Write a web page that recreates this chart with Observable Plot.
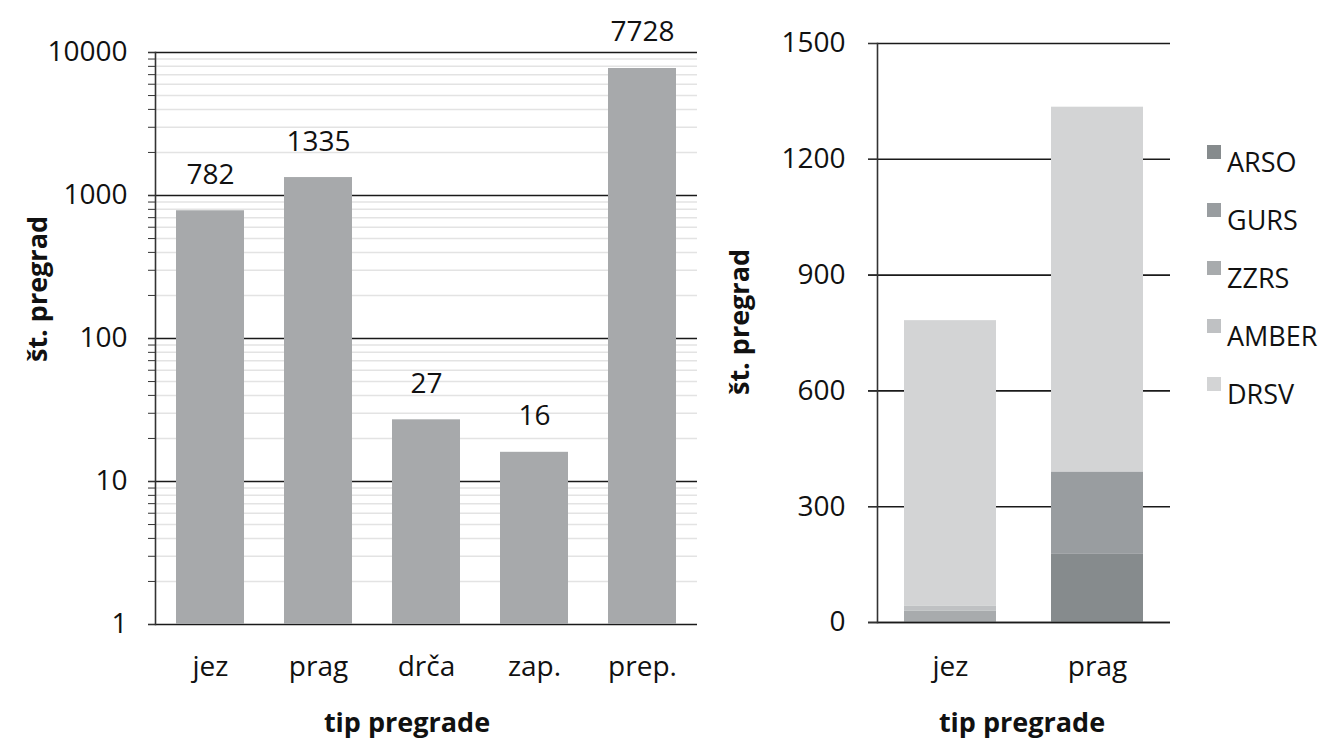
<!DOCTYPE html>
<html>
<head>
<meta charset="utf-8">
<script src="https://cdn.jsdelivr.net/npm/d3@7"></script>
<script src="https://cdn.jsdelivr.net/npm/@observablehq/plot@0.6"></script>
<style>
  body { margin: 0; background: #fff; width: 1342px; height: 738px; position: relative; overflow: hidden; font-family: "Open Sans", sans-serif; color: #111; }
  .abs { position: absolute; }
  .title { position: absolute; font-weight: bold; font-size: 27px; white-space: nowrap; transform: translate(-50%, -50%); }
  .ytitle { position: absolute; font-weight: bold; font-size: 27px; white-space: nowrap; transform: translate(-50%, -50%) rotate(-90deg); }
  .leg { position: absolute; font-size: 27px; white-space: nowrap; }
  .sw { position: absolute; width: 14px; height: 14px; }
</style>
</head>
<body>
<div id="left" class="abs" style="left:0;top:0"></div>
<div id="right" class="abs" style="left:700px;top:0"></div>
<div class="ytitle" style="left:36px;top:289px">št. pregrad</div>
<div class="title" style="left:407px;top:721px">tip pregrade</div>
<div class="ytitle" style="left:738px;top:322px">št. pregrad</div>
<div class="title" style="left:1022px;top:721px">tip pregrade</div>
<div id="legend"></div>
<script>
// ---- data: left chart (log scale) ----
const categories = ["jez", "prag", "drča", "zap.", "prep."];
const counts = [782, 1335, 27, 16, 7728];
const logMajorTicks = [1, 10, 100, 1000, 10000];
const logMinorTicks = [2,3,4,5,6,7,8,9, 20,30,40,50,60,70,80,90, 200,300,400,500,600,700,800,900, 2000,3000,4000,5000,6000,7000,8000,9000];

// ---- data: right chart (stacked) ----
const stackCategories = ["jez", "prag"];
const sources = ["ARSO", "GURS", "ZZRS", "AMBER", "DRSV"];
const arso  = [2, 178];
const gurs  = [0, 212];
const zzrs  = [28, 0];
const amber = [13, 0];
const drsv  = [739, 945];
const linearTicks = [0, 300, 600, 900, 1200, 1500];

const sourceColors = ["#868b8d", "#999da0", "#a8abad", "#bfc1c3", "#d3d4d5"];
const barColor = "#a7a9ab";

const leftData = categories.map((c, i) => ({cat: c, n: counts[i]}));
const seriesBySource = [arso, gurs, zzrs, amber, drsv];
const rightData = [];
stackCategories.forEach((c, j) => {
  sources.forEach((s, k) => rightData.push({cat: c, src: s, n: seriesBySource[k][j]}));
});

const FS = 28;
const font = {fontFamily: "'Open Sans', sans-serif", fontSize: FS + "px", color: "#111", background: "white"};

const left = Plot.plot({
  width: 700, height: 738,
  marginLeft: 155, marginRight: 3, marginTop: 52, marginBottom: 114,
  style: font,
  x: {domain: categories, paddingInner: 0.373, paddingOuter: 0.185, label: null},
  y: {type: "log", domain: [1, 10000], label: null},
  marks: [
    Plot.ruleY(logMinorTicks, {stroke: "#e3e3e3", strokeWidth: 1.5}),
    Plot.ruleY(logMajorTicks, {stroke: "#1a1a1a", strokeWidth: 1.6, insetLeft: -7}),
    Plot.barY(leftData, {x: "cat", y1: 1, y2: "n", fill: barColor}),
    Plot.text(leftData, {x: "cat", y: "n", text: d => String(d.n), dy: -36, fontSize: FS, fill: "#111"}),
    Plot.axisY([...logMajorTicks, ...logMinorTicks], {tickSize: 7, stroke: "#333", text: null, label: null}),
    Plot.axisY(logMajorTicks, {tickSize: 0, tickPadding: 0, dx: -28, tickFormat: d => String(d), fontSize: FS, fill: "#111", label: null}),
    Plot.axisX({tickSize: 0, tickPadding: 32, fontSize: FS, fill: "#111"}),
    Plot.frame({anchor: "left", stroke: "#333", strokeWidth: 1.6})
  ]
});
document.getElementById("left").append(left);

const right = Plot.plot({
  width: 480, height: 738,
  marginLeft: 177, marginRight: 10, marginTop: 43, marginBottom: 116,
  style: font,
  x: {domain: stackCategories, paddingInner: 0.374, paddingOuter: 0.18, label: null},
  y: {domain: [0, 1500], label: null},
  color: {domain: sources, range: sourceColors},
  marks: [
    Plot.ruleY(linearTicks, {stroke: "#1a1a1a", strokeWidth: 1.6, insetLeft: -9}),
    Plot.barY(rightData, {x: "cat", y: "n", fill: "src"}),
    Plot.ruleY([0], {stroke: "#1a1a1a", strokeWidth: 1.6, insetLeft: -9}),
    Plot.axisY(linearTicks, {tickSize: 9, stroke: "#333", text: null, label: null}),
    Plot.axisY(linearTicks, {tickSize: 0, tickPadding: 0, dx: -32, tickFormat: d => String(d), fontSize: FS, fill: "#111", label: null}),
    Plot.axisX({tickSize: 0, tickPadding: 34, fontSize: FS, fill: "#111"}),
    Plot.frame({anchor: "left", stroke: "#333", strokeWidth: 1.6})
  ]
});
document.getElementById("right").append(right);

// legend
const legend = document.getElementById("legend");
sources.forEach((s, i) => {
  const y = 162 + i * 58;
  const sw = document.createElement("div");
  sw.className = "sw";
  sw.style.left = "1207px";
  sw.style.top = (y - 17) + "px";
  sw.style.background = sourceColors[i];
  legend.append(sw);
  const t = document.createElement("div");
  t.className = "leg";
  t.style.left = "1227px";
  t.style.top = (y - 18) + "px";
  t.style.lineHeight = "36px";
  t.textContent = s;
  legend.append(t);
});
</script>
</body>
</html>
